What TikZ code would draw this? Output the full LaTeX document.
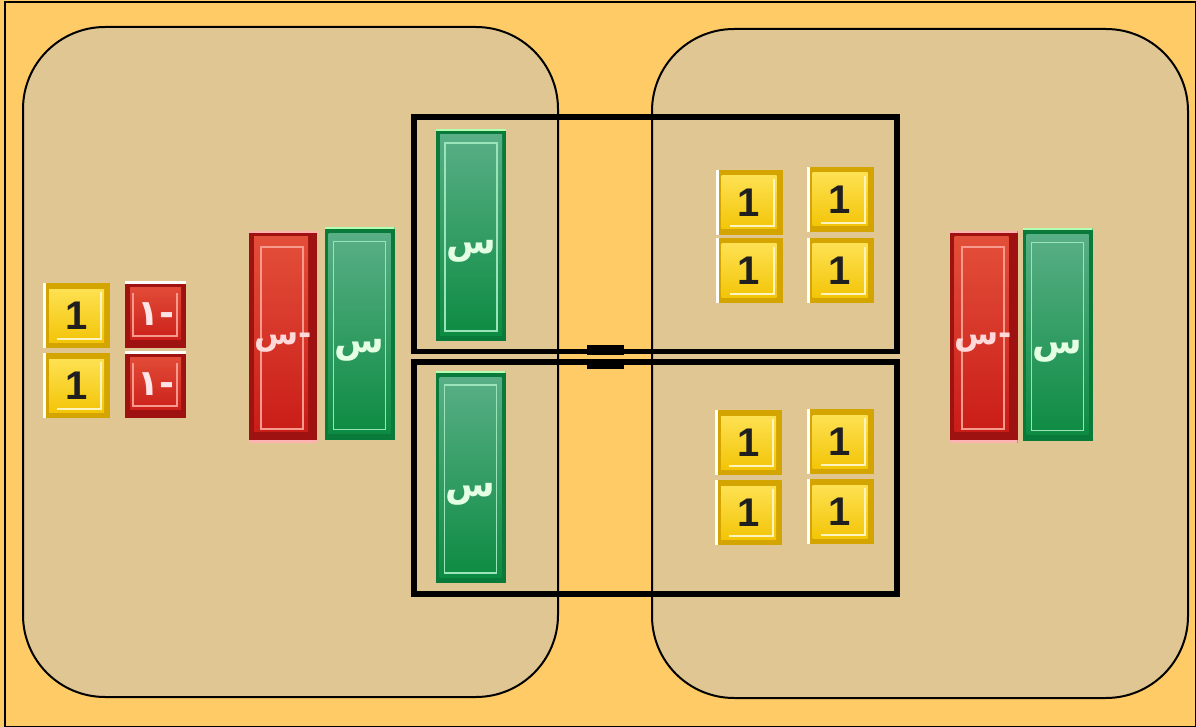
\documentclass[tikz,border=0pt]{standalone}
\usepackage{fontspec}
\newfontfamily\arabicfont[Script=Arabic]{DejaVu Sans}
\newfontfamily\digitfont{Liberation Sans}
\TeXXeTstate=1
\usetikzlibrary{calc}
\definecolor{bgc}{HTML}{FFCB66}
\definecolor{regc}{HTML}{E0C692}
\definecolor{ydark}{HTML}{D4A400}
\definecolor{ytop}{HTML}{FFE45A}
\definecolor{ybot}{HTML}{F2C200}
\definecolor{gdark}{HTML}{0A7A3A}
\definecolor{gtop}{HTML}{5BB088}
\definecolor{gbot}{HTML}{0B8A40}
\definecolor{gline}{HTML}{9BE3B8}
\definecolor{rdark}{HTML}{9E1212}
\definecolor{rtop}{HTML}{E4503A}
\definecolor{rbot}{HTML}{C81A16}
\definecolor{rline}{HTML}{F59A8C}
\newcommand{\xsym}{\raisebox{-19pt}[0pt][0pt]{\beginR س\endR}}
\newcommand{\negxsym}{\raisebox{-7pt}[0pt][0pt]{\beginR-س\endR}}
\begin{document}
\begin{tikzpicture}[x=1pt,y=-1pt,
  region/.style={draw=black, line width=2pt, fill=regc, rounded corners=82pt},
  groupbox/.style={draw=black, line width=5.5pt},
  eqbar/.style={fill=black, inner sep=0pt, minimum width=37pt, minimum height=10pt},
  ytile/.style={inner sep=0pt, minimum width=67pt, minimum height=65pt, fill=ydark,
    font=\digitfont\bfseries\fontsize{40}{40}\selectfont, text=black!88,
    path picture={
      \fill[top color=ytop, bottom color=ybot] ($(path picture bounding box.north west)+(6pt,-6pt)$) rectangle ($(path picture bounding box.south east)+(-6pt,6pt)$);
      \draw[white!60!ytop, line width=2pt] ($(path picture bounding box.north east)+(-9pt,-9pt)$) -- ($(path picture bounding box.south east)+(-9pt,9pt)$) -- ($(path picture bounding box.south west)+(14pt,9pt)$);
      \fill[white] (path picture bounding box.north west) rectangle ($(path picture bounding box.south west)+(3pt,0pt)$);
    }},
  rsmall/.style={inner sep=0pt, minimum width=61pt, minimum height=67pt, fill=rdark,
    font=\arabicfont\bfseries\fontsize{36}{36}\selectfont, text=white!90!red,
    path picture={
      \fill[top color=rtop, bottom color=rbot] ($(path picture bounding box.north west)+(5pt,-6pt)$) rectangle ($(path picture bounding box.south east)+(-5pt,9pt)$);
      \draw[rline, line width=2pt] ($(path picture bounding box.north east)+(-9pt,-12pt)$) -- ($(path picture bounding box.south east)+(-9pt,12pt)$) -- ($(path picture bounding box.south west)+(8pt,12pt)$) -- ($(path picture bounding box.north west)+(8pt,-12pt)$);
      \fill[white] (path picture bounding box.north west) rectangle ($(path picture bounding box.north east)+(0pt,-3pt)$);
    }},
  gbig/.style={inner sep=0pt, minimum width=70pt, minimum height=212pt, fill=gdark,
    font=\arabicfont\bfseries\fontsize{36}{36}\selectfont, text=white!90!green,
    path picture={
      \fill[top color=gtop, bottom color=gbot] ($(path picture bounding box.north west)+(4pt,-6pt)$) rectangle ($(path picture bounding box.south east)+(-4pt,6pt)$);
      \draw[gline, line width=1.8pt] ($(path picture bounding box.north west)+(9pt,-14pt)$) rectangle ($(path picture bounding box.south east)+(-9pt,10pt)$);
      \fill[white!70!green] (path picture bounding box.north west) rectangle ($(path picture bounding box.north east)+(0pt,-2pt)$);
    }},
  rbig/.style={inner sep=0pt, minimum width=68pt, minimum height=212pt, fill=rdark,
    font=\arabicfont\bfseries\fontsize{32}{32}\selectfont, text=white!85!red,
    path picture={
      \fill[top color=rtop, bottom color=rbot] ($(path picture bounding box.north west)+(5pt,-6pt)$) rectangle ($(path picture bounding box.south east)+(-9pt,12pt)$);
      \draw[rline, line width=2pt] ($(path picture bounding box.north west)+(12pt,-16pt)$) rectangle ($(path picture bounding box.south east)+(-14pt,14pt)$);
      \fill[white!70!red] (path picture bounding box.north west) rectangle ($(path picture bounding box.north east)+(0pt,-2pt)$);
      \fill[white!70!red] (path picture bounding box.south west) rectangle ($(path picture bounding box.south east)+(0pt,3pt)$);
    }}
]
\useasboundingbox (0,0) rectangle (1196,727);
\fill[bgc] (0,0) rectangle (1196,727);
\node[draw=black, line width=2pt, minimum width=1191pt, minimum height=724pt, inner sep=0pt, anchor=north west] (frame) at (4,1.5) {};

% regions
\draw[region] (23,27) rectangle (558,697);
\node[inner sep=0pt] (left) at (290,362) {};
\draw[region] (652,29) rectangle (1188,698);
\node[inner sep=0pt] (right) at (920,363) {};

% left side tiles
\node[ytile] (l1a) at (76.5,315.5) {1};
\node[ytile] (l1b) at (76.5,385.5) {1};
\node[rsmall] (m1a) at (155.5,314.5) {\beginR-١\endR};
\node[rsmall] (m1b) at (155.5,384.5) {\beginR-١\endR};
\node[rbig] (lxn) at (283,337) {\negxsym};
\node[gbig] (lxp) at (359.5,333.5) {\xsym};

% grouped x tiles
\node[gbig] (gx1) at (471,235) {\xsym};
\node[gbig] (gx2) at (470.5,477) {\xsym};

% right side unit tiles
\node[ytile] (r1) at (749,202.5) {1};
\node[ytile] (r2) at (840,199.5) {1};
\node[ytile] (r3) at (749,270.5) {1};
\node[ytile] (r4) at (840,270.5) {1};
\node[ytile] (r5) at (748.5,442.5) {1};
\node[ytile] (r6) at (840,441.5) {1};
\node[ytile] (r7) at (748.5,512.5) {1};
\node[ytile] (r8) at (840,511.5) {1};

% right side x tiles
\node[rbig] (rxn) at (983.5,337) {\negxsym};
\node[gbig] (rxp) at (1057.5,334.5) {\xsym};

% group boxes
\node[groupbox, minimum width=483pt, minimum height=234.5pt, inner sep=0pt] (boxtop) at (655.5,234.25) {};
\node[groupbox, minimum width=483pt, minimum height=232pt, inner sep=0pt] (boxbot) at (655.5,478) {};

% equals sign
\node[eqbar] (eqa) at (605.5,349.5) {};
\node[eqbar] (eqb) at (605.5,364) {};
\end{tikzpicture}
\end{document}
